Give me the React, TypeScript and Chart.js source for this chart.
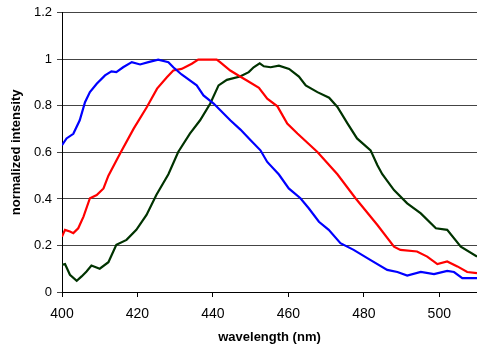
import React, { useEffect, useRef } from "react";
import { Chart, registerables } from "chart.js";

Chart.register(...registerables);

const blueX = [400, 401.2, 403, 404.7, 406.1, 407.4, 409.2, 411.4, 413.1, 414.4, 416.2, 418.5, 420.7, 422.9, 425.5, 428.2, 429.5, 431.7, 435.7, 437.5, 440.2, 444.6, 447.3, 450, 452.6, 454.4, 457.5, 460.1, 463.2, 465.4, 468.1, 470.7, 473.8, 477.3, 481.7, 486.2, 488.9, 491.5, 495.1, 498.6, 502.1, 503.9, 506.1, 510];
const blueY = [0.631, 0.66, 0.68, 0.738, 0.816, 0.859, 0.895, 0.931, 0.948, 0.945, 0.966, 0.988, 0.978, 0.988, 0.999, 0.988, 0.966, 0.935, 0.888, 0.845, 0.81, 0.738, 0.698, 0.652, 0.609, 0.559, 0.505, 0.445, 0.403, 0.36, 0.302, 0.267, 0.21, 0.181, 0.138, 0.095, 0.086, 0.071, 0.086, 0.077, 0.091, 0.086, 0.06, 0.06];

const redX = [400, 400.8, 402.1, 403, 404.3, 405.7, 407.4, 409.2, 411, 412.3, 415.4, 419, 422.5, 425.2, 427.8, 429.5, 431.7, 434.4, 436.1, 441, 441.9, 444.6, 447.2, 449, 452.2, 454.4, 457.1, 459.7, 462.4, 467.7, 473, 477.8, 483.6, 488, 489.7, 494.1, 496.8, 499.5, 502.1, 504.8, 507.4, 510];
const redY = [0.238, 0.267, 0.26, 0.253, 0.274, 0.324, 0.403, 0.417, 0.445, 0.5, 0.595, 0.702, 0.795, 0.874, 0.923, 0.952, 0.959, 0.981, 0.999, 0.999, 0.988, 0.952, 0.926, 0.909, 0.878, 0.831, 0.798, 0.724, 0.681, 0.602, 0.506, 0.403, 0.288, 0.195, 0.181, 0.174, 0.152, 0.12, 0.131, 0.11, 0.086, 0.081];

const greenX = [400, 400.8, 402.1, 403.9, 405.2, 406.5, 407.8, 410, 412.3, 414.4, 417.1, 419.7, 422.4, 425, 428.2, 430.8, 433.9, 436.6, 439.3, 441.5, 443.7, 447.2, 449.5, 450.8, 452.4, 453.5, 455.3, 457.5, 460.2, 462.8, 464.6, 467.7, 470.8, 473, 475.7, 478.2, 481.8, 483.6, 484.9, 488, 491.5, 495.1, 499.1, 502.1, 505.7, 510];
const greenY = [0.117, 0.12, 0.074, 0.048, 0.067, 0.088, 0.114, 0.1, 0.128, 0.203, 0.224, 0.267, 0.331, 0.417, 0.506, 0.602, 0.681, 0.738, 0.81, 0.888, 0.912, 0.926, 0.945, 0.966, 0.983, 0.97, 0.966, 0.973, 0.959, 0.926, 0.888, 0.859, 0.835, 0.795, 0.724, 0.66, 0.609, 0.545, 0.506, 0.438, 0.381, 0.338, 0.274, 0.267, 0.195, 0.152];

const xTickStep = 20;
const yTickStep = 0.2;

const toPoints = (xs: number[], ys: number[]) => xs.map((x, i) => ({ x, y: ys[i] }));

export default function App() {
  const ref = useRef<HTMLCanvasElement>(null);
  useEffect(() => {
    if (!ref.current) return;
    const family = "'Liberation Sans', Arial, sans-serif";
    const yFont = { family, size: 13 };
    const xFont = { family, size: 14 };
    const titleFont = { family, size: 13, weight: "bold" as const };
    const chart = new Chart(ref.current, {
      type: "line",
      data: {
        datasets: [
          { data: toPoints(blueX, blueY), borderColor: "#0000FF", borderWidth: 2.2, pointRadius: 0, tension: 0 },
          { data: toPoints(redX, redY), borderColor: "#FF0000", borderWidth: 2.2, pointRadius: 0, tension: 0 },
          { data: toPoints(greenX, greenY), borderColor: "#003300", borderWidth: 2.2, pointRadius: 0, tension: 0 },
        ],
      },
      options: {
        animation: false,
        responsive: false,
        devicePixelRatio: 1,
        layout: { padding: { top: 12, right: 0, left: 0, bottom: 0 } },
        plugins: { legend: { display: false }, tooltip: { enabled: false } },
        scales: {
          x: {
            type: "linear",
            min: 400,
            max: 510,
            ticks: { stepSize: xTickStep, includeBounds: false, color: "#000", font: xFont, padding: 9, maxRotation: 0 },
            grid: { drawOnChartArea: false, drawTicks: true, tickLength: 5, color: "#000" },
            border: { color: "#000", width: 1 },
            title: { display: true, text: "wavelength (nm)", color: "#000", font: titleFont, padding: { top: 0, bottom: 4 } },
            afterFit: (s: any) => { s.height = 57; },
          },
          y: {
            type: "linear",
            min: 0,
            max: 1.2,
            ticks: {
              stepSize: yTickStep,
              color: "#000",
              font: yFont,
              padding: 5,
              callback: (v: any) => String(Number(Number(v).toFixed(1))),
            },
            grid: { drawTicks: true, tickLength: 5, color: "#444" },
            border: { color: "#000", width: 1 },
            title: { display: true, text: "normalized intensity", color: "#000", font: titleFont, padding: { top: 9, bottom: 0 } },
            afterFit: (s: any) => { s.width = 62; },
          },
        },
      },
    });
    return () => chart.destroy();
  }, []);
  return (
    <div style={{ position: "fixed", left: 0, top: 0, width: 477, height: 349, background: "#fff" }}>
      <canvas ref={ref} width={477} height={349} />
    </div>
  );
}
